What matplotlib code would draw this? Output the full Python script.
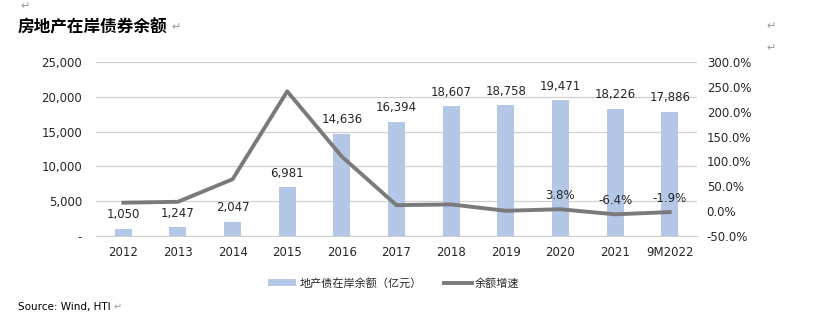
import numpy as np
import matplotlib
matplotlib.use('Agg')
import matplotlib.pyplot as plt
from matplotlib.ticker import FuncFormatter

plt.rcParams['font.family'] = ['Noto Sans CJK SC', 'DejaVu Sans']

# data
years = ['2012', '2013', '2014', '2015', '2016', '2017', '2018', '2019', '2020', '2021', '9M2022']
balance = [1050, 1247, 2047, 6981, 14636, 16394, 18607, 18758, 19471, 18226, 17886]
growth = [17.0, 18.8, 64.2, 241.0, 109.7, 12.0, 13.5, 0.8, 3.8, -6.4, -1.9]
growth_labels = {8: '3.8%', 9: '-6.4%', 10: '-1.9%'}

bar_col = '#B4C7E7'
line_col = '#7A7A7A'
txt_col = '#262626'

fig = plt.figure(figsize=(8.14, 3.23), dpi=100)
ax = fig.add_axes([96/814, 1-236/323, 601/814, 174/323])
ax2 = ax.twinx()

x = np.arange(len(years))
ax.bar(x, balance, width=0.31, color=bar_col, zorder=2, label='地产债在岸余额（亿元）')
for xi, v in zip(x, balance):
    ax.text(xi, v + 1100, f'{v:,}', ha='center', va='bottom', fontsize=8.5, color=txt_col,
            family='DejaVu Sans')

ax2.plot(x, growth, color=line_col, lw=2.8, zorder=3, label='余额增速')
for i, s in growth_labels.items():
    ax2.text(x[i], growth[i] + 14, s, ha='center', va='bottom', fontsize=8.5, color=txt_col,
             family='DejaVu Sans')

ax.set_xlim(-0.5, len(years) - 0.5)
ax.set_ylim(0, 25000)
ax.set_yticks(np.arange(0, 25001, 5000))
ax.yaxis.set_major_formatter(FuncFormatter(lambda v, p: '-' if v == 0 else f'{int(v):,}'))
ax2.set_ylim(-50, 300)
ax2.set_yticks(np.arange(-50, 301, 50))
ax2.yaxis.set_major_formatter(FuncFormatter(lambda v, p: f'{v:.1f}%'))
ax.set_xticks(x)
ax.set_xticklabels(years)

ax.grid(axis='y', color='#D0D0D0', lw=0.9, zorder=0)
ax.set_axisbelow(True)
for a in (ax, ax2):
    for sp in a.spines.values():
        sp.set_visible(False)
    a.tick_params(length=0, labelsize=8.5, colors=txt_col)
ax.spines['bottom'].set_visible(True)
ax.spines['bottom'].set_color('#D0D0D0')
ax.tick_params(axis='y', pad=10)
ax.tick_params(axis='x', pad=7)
ax2.tick_params(axis='y', pad=7)
for lab in ax.get_xticklabels() + ax.get_yticklabels() + ax2.get_yticklabels():
    lab.set_family('DejaVu Sans')

h1, l1 = ax.get_legend_handles_labels()
h2, l2 = ax2.get_legend_handles_labels()
fig.legend(h1 + h2, l1 + l2, loc='center', bbox_to_anchor=(394/814, 1-283/323), ncol=2,
           frameon=False, fontsize=8, handlelength=2.5, handletextpad=0.3, columnspacing=2.0,
           labelcolor=txt_col)

fig.text(18/814, 1-27/323, '房地产在岸债券余额', fontsize=12, fontweight='bold', va='center')
fig.text(171/814, 1-27/323, '↵', fontsize=8, color='#999999', va='center', family='DejaVu Sans')
fig.text(18/814, 1-307/323, 'Source: Wind, HTI', fontsize=7.5, va='center', family='DejaVu Sans')
fig.text(114/814, 1-307/323, '↵', fontsize=7, color='#999999', va='center', family='DejaVu Sans')
fig.text(20/814, 1-6/323, '↵', fontsize=8, color='#999999', va='center', family='DejaVu Sans')
fig.text(766/814, 1-26/323, '↵', fontsize=8, color='#999999', va='center', family='DejaVu Sans')
fig.text(766/814, 1-48/323, '↵', fontsize=8, color='#999999', va='center', family='DejaVu Sans')

fig.savefig('out.png', dpi=100)
